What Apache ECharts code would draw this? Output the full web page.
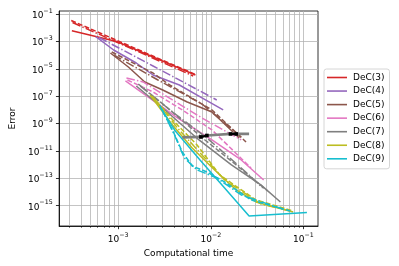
<!DOCTYPE html>
<html><head><meta charset="utf-8">
<script src="https://cdn.jsdelivr.net/npm/echarts@6/dist/echarts.min.js"></script>
<style>html,body{margin:0;padding:0;background:#fff}#c{width:399px;height:266px}</style>
</head><body><div id="c"></div>
<script>
// ---- data: [computational time, error] ----
const legendNames = ['DeC(3)','DeC(4)','DeC(5)','DeC(6)','DeC(7)','DeC(8)','DeC(9)'];
const xMajorTicks = [1e-3, 1e-2, 1e-1];
const xMinorTicks = [3e-4,4e-4,5e-4,6e-4,7e-4,8e-4,9e-4,2e-3,3e-3,4e-3,5e-3,6e-3,7e-3,8e-3,9e-3,2e-2,3e-2,4e-2,5e-2,6e-2,7e-2,8e-2,9e-2];
const yTicks = [1e-15,1e-13,1e-11,1e-9,1e-7,1e-5,1e-3,1e-1];

const dec3Solid   = [[3.17e-4,6.04e-3],[9.64e-4,9.84e-4],[6.82e-3,3.52e-6]];
const dec3Dash    = [[3.12e-4,3.36e-2],[6.82e-3,3.84e-6]];
const dec3DashDot = [[3.22e-4,2.40e-2],[6.46e-3,2.98e-6]];

const dec4Solid   = [[5.74e-4,2.20e-3],[8.95e-4,2.36e-4],[1.57e-3,2.65e-5],[2.38e-3,3.52e-6],[4.58e-3,6.57e-7],[8.04e-3,7.40e-8],[1.36e-2,9.84e-9]];
const dec4Dash    = [[6.22e-4,1.93e-3],[2.38e-3,1.60e-5],[1.16e-2,5.28e-8]];

const dec5Solid   = [[8.26e-4,1.42e-4],[1.29e-3,1.35e-5],[1.94e-3,1.09e-6],[3.03e-3,2.84e-7],[5.57e-3,3.78e-8],[1.03e-2,7.03e-9],[2.03e-2,8.89e-11]];
const dec5Dash    = [[8.53e-4,1.68e-4],[2.38e-3,4.93e-6],[3.60e-3,6.57e-7],[1.03e-2,9.84e-9],[2.40e-2,4.54e-11]];
const dec5DashDot = [[8.95e-4,1.02e-4],[2.69e-3,1.52e-6],[8.04e-3,2.70e-8],[2.13e-2,1.05e-10]];

const dec6DashDot = [[1.23e-3,2.13e-6],[1.86e-3,1.09e-6],[3.86e-3,5.28e-8],[8.04e-3,2.56e-9],[2.13e-2,6.35e-11]];
const dec6Dash    = [[1.26e-3,1.52e-6],[2.38e-3,2.03e-7],[4.93e-3,9.84e-9],[1.03e-2,3.41e-10],[2.72e-2,5.74e-13]];
const dec6Solid   = [[1.20e-3,1.29e-6],[2.10e-3,8.75e-8],[4.37e-3,2.56e-9],[1.03e-2,6.35e-11],[2.13e-2,2.20e-12],[3.72e-2,7.64e-14]];

const dec7Solid   = [[1.57e-3,5.56e-7],[3.03e-3,1.38e-8],[7.46e-3,6.35e-11],[1.67e-2,9.51e-13],[3.47e-2,3.30e-14],[5.64e-2,1.89e-15]];
const dec7Dash    = [[1.65e-3,7.78e-7],[3.42e-3,1.38e-8],[8.65e-3,6.35e-11],[1.88e-2,9.51e-13],[4.11e-2,1.20e-14]];
const dec7Dot     = [[1.73e-3,5.56e-7],[3.86e-3,7.03e-9],[9.08e-3,8.89e-11],[2.13e-2,5.74e-13],[3.64e-2,1.99e-14]];

const dec8Solid   = [[2.21e-3,1.22e-7],[3.86e-3,7.91e-10],[6.30e-3,1.66e-11],[1.10e-2,4.10e-13],[1.88e-2,1.42e-14],[3.07e-2,1.89e-15],[7.74e-2,3.52e-16]];
const dec8Dash    = [[2.32e-3,1.04e-7],[4.06e-3,1.31e-9],[7.11e-3,2.74e-11],[1.25e-2,1.77e-13],[3.07e-2,2.65e-15],[7.74e-2,4.17e-16]];
const dec8DashDot = [[2.43e-3,7.40e-8],[4.37e-3,4.78e-10],[8.04e-3,5.10e-12],[1.41e-2,7.64e-14],[3.47e-2,1.35e-15],[7.19e-2,4.17e-16]];

const dec9Solid   = [[2.88e-3,1.38e-8],[4.06e-3,3.41e-10],[7.65e-3,2.20e-12],[1.41e-2,1.99e-14],[2.59e-2,1.80e-16],[1.09e-1,3.24e-16]];
const dec9Dash    = [[2.82e-3,1.93e-8],[3.86e-3,3.41e-10],[4.93e-3,8.45e-12],[6.30e-3,8.04e-13],[9.08e-3,2.93e-13],[1.41e-2,5.46e-14],[2.72e-2,2.65e-15],[7.19e-2,4.17e-16]];
const dec9DashDot = [[2.96e-3,1.16e-8],[4.06e-3,1.47e-10],[5.18e-3,3.08e-12],[7.11e-3,4.10e-13],[1.16e-2,1.07e-13],[2.13e-2,6.14e-15],[6.37e-2,4.93e-16]];

const refLine     = [[4.93e-3,9.67e-11],[7.83e-3,1.05e-10],[9.08e-3,1.35e-10],[1.63e-2,1.74e-10],[1.88e-2,1.74e-10],[2.59e-2,1.74e-10]];
const refMarked1  = [[7.83e-3,1.05e-10],[9.08e-3,1.35e-10]];
const refMarked2  = [[1.63e-2,1.74e-10],[1.88e-2,1.74e-10]];

// ---- styles ----
const colors = ['#d62728','#9467bd','#8c564b','#e377c2','#7f7f7f','#bcbd22','#17becf'];
const SOLID = 'solid', DASH = [5, 2.2], DASHDOT = [8.6, 2.2, 1.4, 2.2], DOT = [1.4, 2.2];

const lines = [
  [0, dec3Solid, SOLID], [0, dec3Dash, DASH], [0, dec3DashDot, DASHDOT],
  [1, dec4Solid, SOLID], [1, dec4Dash, DASHDOT],
  [2, dec5Solid, SOLID], [2, dec5Dash, DASH], [2, dec5DashDot, DASHDOT],
  [3, dec6Solid, SOLID], [3, dec6Dash, DASH], [3, dec6DashDot, DASHDOT],
  [4, dec7Solid, SOLID], [4, dec7Dash, DASH], [4, dec7Dot, DASHDOT],
  [5, dec8Solid, SOLID], [5, dec8Dash, DASH], [5, dec8DashDot, DASHDOT],
  [6, dec9Solid, SOLID], [6, dec9Dash, DASH], [6, dec9DashDot, DASHDOT]
];

const series = lines.map(([ci, data, type]) => ({
  type: 'line', name: legendNames[ci], data, showSymbol: false, symbol: 'none',
  xAxisIndex: 0, yAxisIndex: 0, animation: false, silent: true,
  itemStyle: { color: colors[ci] },
  lineStyle: { color: colors[ci], width: 1.5, type }
}));
series.push({
  type: 'line', name: 'ref', data: refLine, symbol: 'none', animation: false, silent: true,
  lineStyle: { color: '#7f7f7f', width: 2.7 }, itemStyle: { color: '#7f7f7f' }, z: 5
});
[refMarked1, refMarked2].forEach(d => series.push({
  type: 'line', name: 'ref2', data: d, symbol: 'rect', symbolSize: 3.6, showSymbol: true,
  animation: false, silent: true,
  lineStyle: { color: '#000', width: 2.2 }, itemStyle: { color: '#000' }, z: 6
}));

function sci(v) {
  const e = Math.round(Math.log10(v));
  return '{b|10}{s|' + (e < 0 ? '\u2212' : '') + Math.abs(e) + '}';
}
const rich = {
  b: { fontSize: 9, lineHeight: 12, verticalAlign: 'bottom', color: '#000', fontFamily: 'DejaVu Sans' },
  s: { fontSize: 6.3, lineHeight: 6, verticalAlign: 'top', color: '#000', fontFamily: 'DejaVu Sans' }
};

const XMIN = 2.31e-4, XMAX = 0.1435, YMIN = 3.31e-17, YMAX = 0.166;
const gridCol = '#b0b0b0';

const option = {
  animation: false,
  textStyle: { fontFamily: 'DejaVu Sans' },
  grid: { left: 54, right: 81, top: 11, bottom: 40, show: true, borderColor: '#000', borderWidth: 0.8, containLabel: false },
  legend: {
    data: legendNames, orient: 'vertical', left: 324, top: 69,
    icon: 'rect', itemWidth: 20, itemHeight: 1.6, itemGap: 1.55,
    padding: [2.5, 5, 4, 3],
    backgroundColor: 'rgba(255,255,255,0.85)', borderColor: '#cccccc', borderWidth: 0.8, borderRadius: 2.5,
    textStyle: { fontSize: 9, color: '#000', lineHeight: 12, fontFamily: 'DejaVu Sans', padding: [0,0,0,1] },
    selectedMode: false
  },
  xAxis: [
    {
      type: 'log', min: XMIN, max: XMAX, position: 'bottom',
      name: 'Computational time', nameLocation: 'middle', nameGap: 19,
      nameTextStyle: { fontSize: 9, color: '#000', fontFamily: 'DejaVu Sans' },
      axisLine: { show: true, lineStyle: { color: '#000', width: 0.8 } },
      axisTick: { show: true, length: 3.2, customValues: xMajorTicks, lineStyle: { color: '#000', width: 0.8 } },
      axisLabel: { customValues: xMajorTicks, formatter: sci, rich, margin: 6 },
      splitLine: { show: true, lineStyle: { color: gridCol, width: 0.75 } },
      minorTick: { show: false }, minorSplitLine: { show: false }
    },
    {
      type: 'log', min: XMIN, max: XMAX, position: 'bottom',
      axisLine: { show: false },
      axisTick: { show: true, length: 1.8, customValues: xMinorTicks, lineStyle: { color: '#000', width: 0.6 } },
      axisLabel: { show: false, customValues: xMinorTicks },
      splitLine: { show: true, lineStyle: { color: gridCol, width: 0.75 } }
    }
  ],
  yAxis: [{
    type: 'log', min: YMIN, max: YMAX,
    name: 'Error', nameLocation: 'middle', nameGap: 36, nameRotate: 90,
    nameTextStyle: { fontSize: 9, color: '#000', fontFamily: 'DejaVu Sans' },
    axisLine: { show: true, lineStyle: { color: '#000', width: 0.8 } },
    axisTick: { show: true, length: 3.2, customValues: yTicks, lineStyle: { color: '#000', width: 0.8 } },
    axisLabel: { customValues: yTicks, formatter: sci, rich, margin: 6.5 },
    splitLine: { show: true, lineStyle: { color: gridCol, width: 0.75 } },
    minorTick: { show: false }, minorSplitLine: { show: false }
  }],
  series
};
const chart = echarts.init(document.getElementById('c'), null, { renderer: 'canvas' });
chart.setOption(option);
</script></body></html>
